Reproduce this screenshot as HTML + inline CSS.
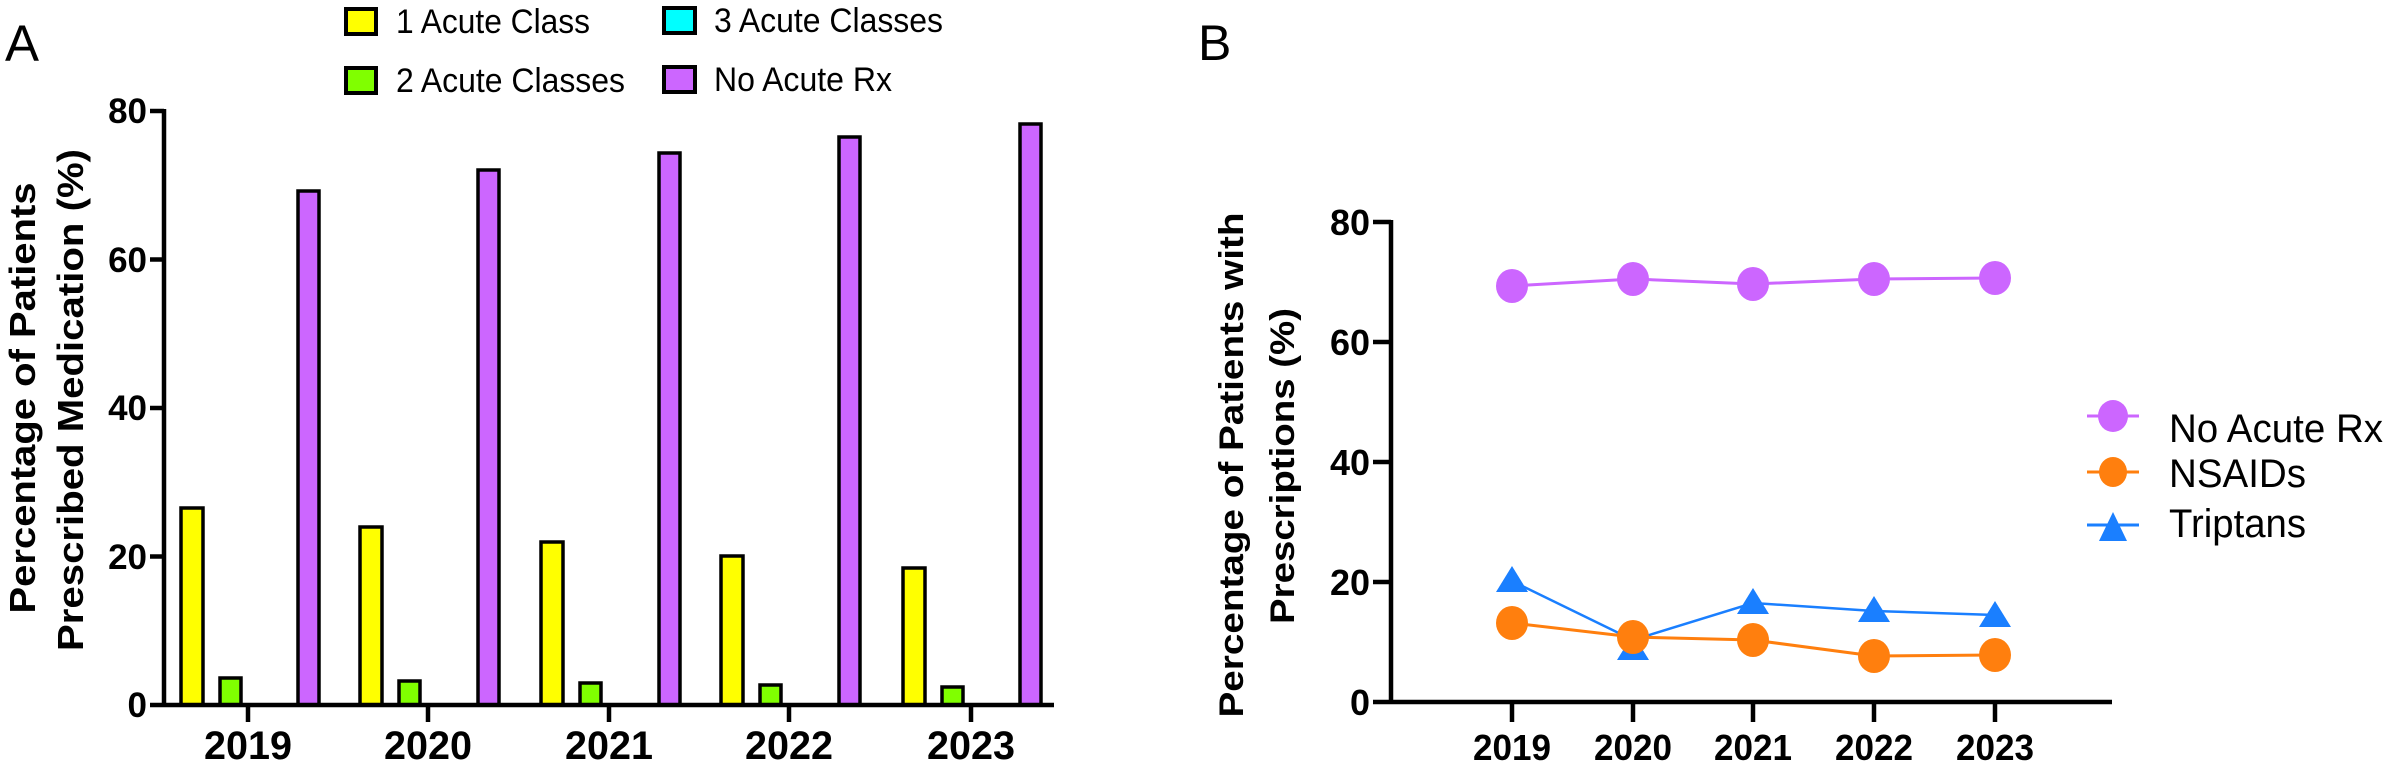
<!DOCTYPE html>
<html><head><meta charset="utf-8"><style>html,body{margin:0;padding:0;background:#fff}svg{display:block}</style></head>
<body>
<svg width="2385" height="762" viewBox="0 0 2385 762" xmlns="http://www.w3.org/2000/svg" font-family="Liberation Sans, Arial, sans-serif">
<!-- Panel A -->
<text x="5" y="61" font-size="51">A</text>
<g stroke="#000" stroke-width="4">
<rect x="346" y="9" width="30" height="25" fill="#ffff00"/>
<rect x="346" y="68" width="30" height="25" fill="#80ff00"/>
<rect x="664" y="8" width="31" height="25" fill="#00ffff"/>
<rect x="664" y="67" width="31" height="25" fill="#cc66ff"/>
</g>
<g font-size="34">
<text x="396" y="33" textLength="194" lengthAdjust="spacingAndGlyphs">1 Acute Class</text>
<text x="396" y="92" textLength="229" lengthAdjust="spacingAndGlyphs">2 Acute Classes</text>
<text x="714" y="32" textLength="229" lengthAdjust="spacingAndGlyphs">3 Acute Classes</text>
<text x="714" y="91" textLength="178" lengthAdjust="spacingAndGlyphs">No Acute Rx</text>
</g>
<g font-size="36" font-weight="bold" text-anchor="middle">
<text transform="translate(35,398) rotate(-90)" textLength="431" lengthAdjust="spacingAndGlyphs">Percentage of Patients</text>
<text transform="translate(83,400) rotate(-90)" textLength="502" lengthAdjust="spacingAndGlyphs">Prescribed Medication (%)</text>
</g>
<g stroke="#000" stroke-width="3.5">
<rect x="181" y="508" width="22" height="197" fill="#ffff00"/>
<rect x="220" y="678" width="21" height="27" fill="#80ff00"/>
<rect x="298" y="191" width="21" height="514" fill="#cc66ff"/>
<rect x="360" y="527" width="22" height="178" fill="#ffff00"/>
<rect x="399" y="681" width="21" height="24" fill="#80ff00"/>
<rect x="478" y="170" width="21" height="535" fill="#cc66ff"/>
<rect x="541" y="542" width="22" height="163" fill="#ffff00"/>
<rect x="580" y="683" width="21" height="22" fill="#80ff00"/>
<rect x="659" y="153" width="21" height="552" fill="#cc66ff"/>
<rect x="721" y="556" width="22" height="149" fill="#ffff00"/>
<rect x="760" y="685" width="21" height="20" fill="#80ff00"/>
<rect x="839" y="137" width="21" height="568" fill="#cc66ff"/>
<rect x="903" y="568" width="22" height="137" fill="#ffff00"/>
<rect x="942" y="687" width="21" height="18" fill="#80ff00"/>
<rect x="1020" y="124" width="21" height="581" fill="#cc66ff"/>
</g>
<g stroke="#000" stroke-width="4.5" fill="none">
<line x1="164" y1="109" x2="164" y2="707"/>
<line x1="150" y1="705" x2="1054" y2="705"/>
<line x1="150" y1="111" x2="164" y2="111"/>
<line x1="150" y1="259.5" x2="164" y2="259.5"/>
<line x1="150" y1="408" x2="164" y2="408"/>
<line x1="150" y1="556.5" x2="164" y2="556.5"/>
<line x1="248" y1="705" x2="248" y2="722"/>
<line x1="428" y1="705" x2="428" y2="722"/>
<line x1="609" y1="705" x2="609" y2="722"/>
<line x1="789" y1="705" x2="789" y2="722"/>
<line x1="971" y1="705" x2="971" y2="722"/>
</g>
<g font-size="35" font-weight="bold" text-anchor="end">
<text x="147" y="123">80</text>
<text x="147" y="272">60</text>
<text x="147" y="420">40</text>
<text x="147" y="569">20</text>
<text x="147" y="717">0</text>
</g>
<g font-size="40" font-weight="bold" text-anchor="middle">
<text x="248" y="759" textLength="88" lengthAdjust="spacingAndGlyphs">2019</text>
<text x="428" y="759" textLength="88" lengthAdjust="spacingAndGlyphs">2020</text>
<text x="609" y="759" textLength="88" lengthAdjust="spacingAndGlyphs">2021</text>
<text x="789" y="759" textLength="88" lengthAdjust="spacingAndGlyphs">2022</text>
<text x="971" y="759" textLength="88" lengthAdjust="spacingAndGlyphs">2023</text>
</g>

<!-- Panel B -->
<text x="1198" y="60" font-size="50">B</text>
<g font-size="34" font-weight="bold" text-anchor="middle">
<text transform="translate(1243,465) rotate(-90)" textLength="505" lengthAdjust="spacingAndGlyphs">Percentage of Patients with</text>
<text transform="translate(1294,466) rotate(-90)" textLength="316" lengthAdjust="spacingAndGlyphs">Prescriptions (%)</text>
</g>
<g stroke="#000" stroke-width="4.5" fill="none">
<line x1="1391" y1="220" x2="1391" y2="704"/>
<line x1="1373" y1="702" x2="2112" y2="702"/>
<line x1="1373" y1="222" x2="1391" y2="222"/>
<line x1="1373" y1="342" x2="1391" y2="342"/>
<line x1="1373" y1="462" x2="1391" y2="462"/>
<line x1="1373" y1="582" x2="1391" y2="582"/>
<line x1="1512" y1="702" x2="1512" y2="722"/>
<line x1="1633" y1="702" x2="1633" y2="722"/>
<line x1="1753" y1="702" x2="1753" y2="722"/>
<line x1="1874" y1="702" x2="1874" y2="722"/>
<line x1="1995" y1="702" x2="1995" y2="722"/>
</g>
<g font-size="36" font-weight="bold" text-anchor="end">
<text x="1370" y="235">80</text>
<text x="1370" y="355">60</text>
<text x="1370" y="475">40</text>
<text x="1370" y="595">20</text>
<text x="1370" y="715">0</text>
</g>
<g font-size="36" font-weight="bold" text-anchor="middle">
<text x="1512" y="760" textLength="78" lengthAdjust="spacingAndGlyphs">2019</text>
<text x="1633" y="760" textLength="78" lengthAdjust="spacingAndGlyphs">2020</text>
<text x="1753" y="760" textLength="78" lengthAdjust="spacingAndGlyphs">2021</text>
<text x="1874" y="760" textLength="78" lengthAdjust="spacingAndGlyphs">2022</text>
<text x="1995" y="760" textLength="78" lengthAdjust="spacingAndGlyphs">2023</text>
</g>
<polyline points="1512,286 1633,279 1753,284 1874,279 1995,278" fill="none" stroke="#cc66ff" stroke-width="3"/>
<g fill="#cc66ff"><ellipse cx="1512" cy="286" rx="16" ry="17"/><ellipse cx="1633" cy="279" rx="16" ry="17"/><ellipse cx="1753" cy="284" rx="16" ry="17"/><ellipse cx="1874" cy="279" rx="16" ry="17"/><ellipse cx="1995" cy="278" rx="16" ry="17"/></g>
<polyline points="1512,581 1633,640 1753,603 1874,611 1995,615" fill="none" stroke="#1a7fff" stroke-width="2.5"/>
<polyline points="1512,623 1633,637 1753,640 1874,656 1995,655" fill="none" stroke="#ff7f0e" stroke-width="3"/>
<g fill="#1a7fff">
<polygon points="1512,566 1496,592 1528,592"/>
<polygon points="1633,634 1617,660 1649,660"/>
<polygon points="1753,588 1737,614 1769,614"/>
<polygon points="1874,596 1858,622 1890,622"/>
<polygon points="1995,601 1979,627 2011,627"/>
</g>
<g fill="#ff7f0e"><ellipse cx="1512" cy="623" rx="16" ry="17"/><ellipse cx="1633" cy="637" rx="16" ry="17"/><ellipse cx="1753" cy="640" rx="16" ry="17"/><ellipse cx="1874" cy="656" rx="16" ry="17"/><ellipse cx="1995" cy="655" rx="16" ry="17"/></g>
<line x1="2087" y1="416" x2="2139" y2="416" stroke="#cc66ff" stroke-width="3"/>
<ellipse cx="2113" cy="416" rx="15" ry="16" fill="#cc66ff"/>
<line x1="2087" y1="472" x2="2139" y2="472" stroke="#ff7f0e" stroke-width="3"/>
<ellipse cx="2113" cy="472" rx="14" ry="15" fill="#ff7f0e"/>
<line x1="2087" y1="525" x2="2139" y2="525" stroke="#1a7fff" stroke-width="3"/>
<polygon points="2113,512 2099,541 2127,541" fill="#1a7fff"/>
<g font-size="40">
<text x="2169" y="442" textLength="214" lengthAdjust="spacingAndGlyphs">No Acute Rx</text>
<text x="2169" y="487" textLength="137" lengthAdjust="spacingAndGlyphs">NSAIDs</text>
<text x="2169" y="537" textLength="137" lengthAdjust="spacingAndGlyphs">Triptans</text>
</g>
</svg>
</body></html>
